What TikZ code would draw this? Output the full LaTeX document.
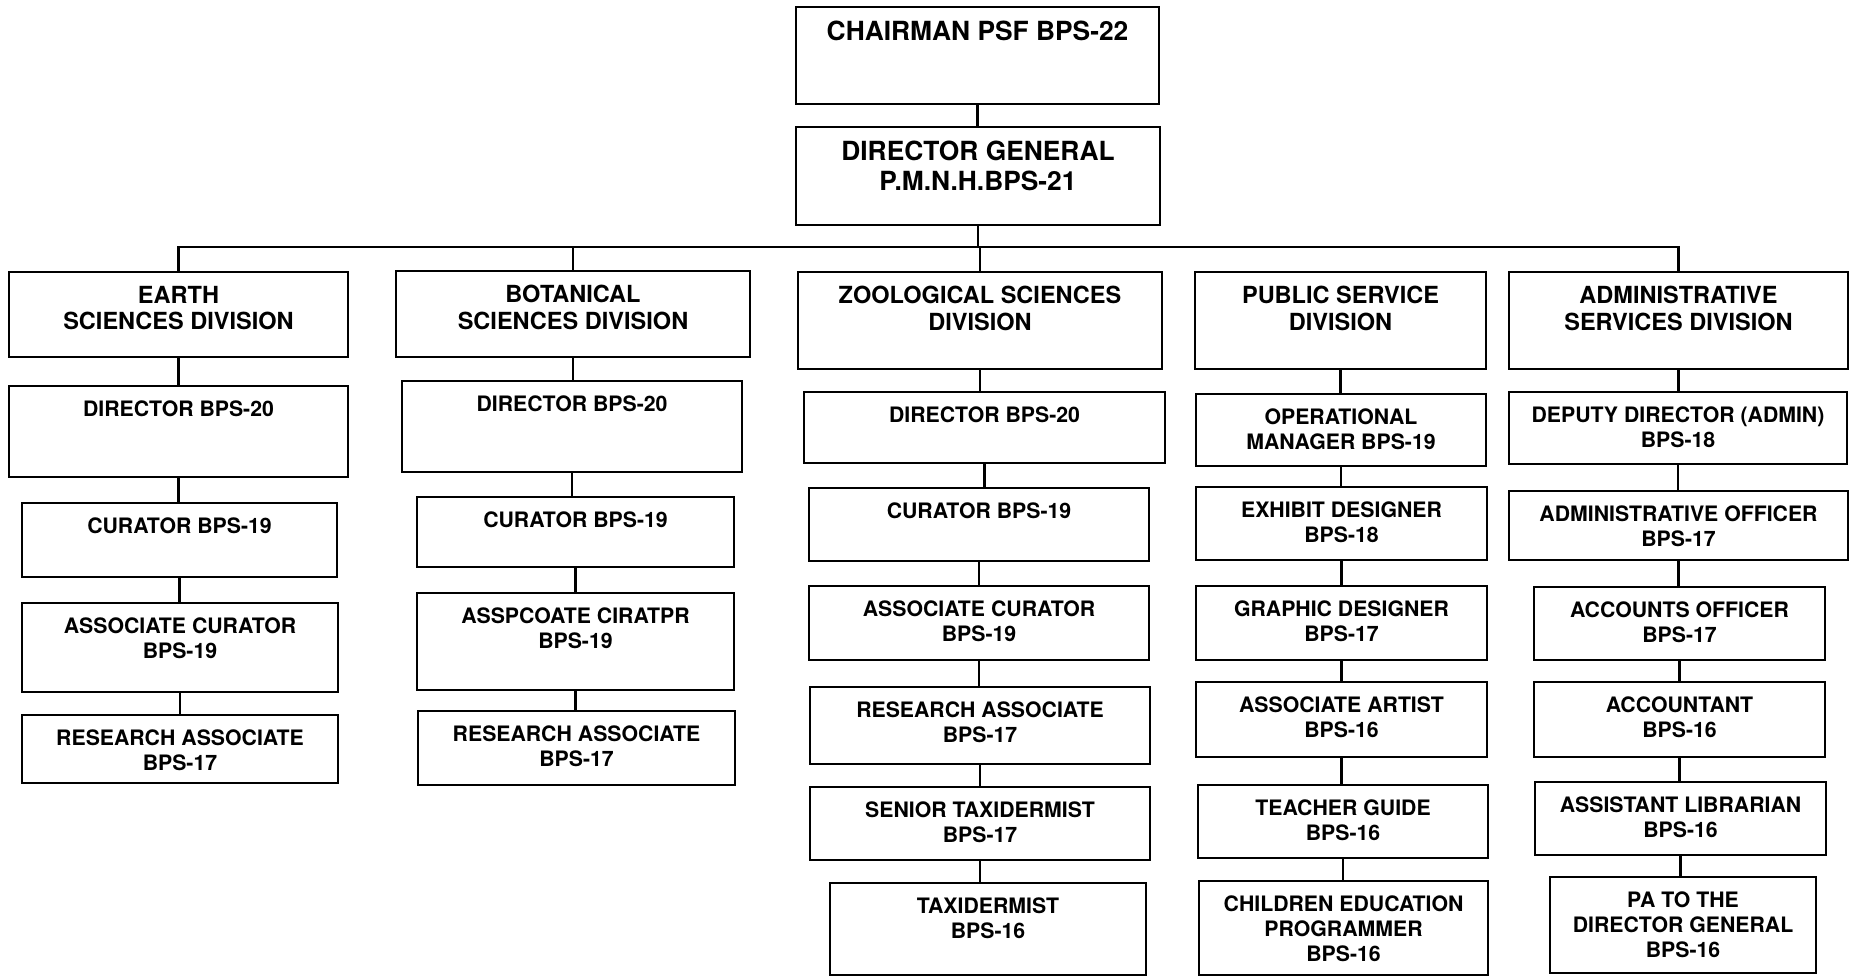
\documentclass[tikz,border=0pt]{standalone}
\usepackage{fontspec}
\setmainfont{TeX Gyre Heros}
\usepackage{tikz}
\tikzstyle{box}=[rectangle,draw=black,line width=1.6pt,inner sep=0pt]
\tikzstyle{toplbl}=[anchor=north,align=center,inner sep=0pt,yshift=-8.8pt,font=\bfseries\fontsize{15}{17}\selectfont]
\tikzstyle{divlbl}=[anchor=north,align=center,inner sep=0pt,yshift=-8.5pt,font=\bfseries\fontsize{13.4}{15.2}\selectfont]
\tikzstyle{poslbl}=[anchor=north,align=center,inner sep=0pt,yshift=-8.8pt,font=\bfseries\fontsize{12.1}{14.2}\selectfont]
\tikzstyle{conn}=[line width=1.3pt]

\begin{document}
\begin{tikzpicture}[x=0.02cm,y=-0.02cm]
        \useasboundingbox (0,0) rectangle (1852,977);

        % top
        \node at (977.5,55.5) [box,minimum width=7.26cm,minimum height=1.94cm,label={[toplbl]north:CHAIRMAN PSF BPS-22}] (chair) {};
        \node at (978,176)    [box,minimum width=7.28cm,minimum height=1.96cm,label={[toplbl]north:DIRECTOR GENERAL\\P.M.N.H.BPS-21}] (dg) {};

        % divisions
        \node at (178.5,314.5) [box,minimum width=6.78cm,minimum height=1.70cm,label={[divlbl]north:EARTH\\SCIENCES DIVISION}] (earth) {};
        \node at (573,314)     [box,minimum width=7.08cm,minimum height=1.72cm,label={[divlbl]north:BOTANICAL\\SCIENCES DIVISION}] (bot) {};
        \node at (980,320.5)   [box,minimum width=7.28cm,minimum height=1.94cm,label={[divlbl]north:ZOOLOGICAL SCIENCES\\DIVISION}] (zoo) {};
        \node at (1340.5,320.5) [box,minimum width=5.82cm,minimum height=1.94cm,label={[divlbl]north:PUBLIC SERVICE\\DIVISION}] (pub) {};
        \node at (1678.5,320.5) [box,minimum width=6.78cm,minimum height=1.94cm,label={[divlbl]north:ADMINISTRATIVE\\SERVICES DIVISION}] (adm) {};

        % earth sciences
        \node at (178.5,431.5) [box,minimum width=6.78cm,minimum height=1.82cm,label={[poslbl]north:DIRECTOR BPS-20}] (edir) {};
        \node at (179.5,540)   [box,minimum width=6.30cm,minimum height=1.48cm,label={[poslbl]north:CURATOR BPS-19}] (ecur) {};
        \node at (180,647.5)   [box,minimum width=6.32cm,minimum height=1.78cm,label={[poslbl]north:ASSOCIATE CURATOR\\BPS-19}] (easc) {};
        \node at (180,749)     [box,minimum width=6.32cm,minimum height=1.36cm,label={[poslbl]north:RESEARCH ASSOCIATE\\BPS-17}] (eres) {};

        % botanical sciences
        \node at (572,426.5)   [box,minimum width=6.80cm,minimum height=1.82cm,label={[poslbl]north:DIRECTOR BPS-20}] (bdir) {};
        \node at (575.5,532)   [box,minimum width=6.34cm,minimum height=1.40cm,label={[poslbl]north:CURATOR BPS-19}] (bcur) {};
        \node at (575.5,641.5) [box,minimum width=6.34cm,minimum height=1.94cm,label={[poslbl]north:ASSPCOATE CIRATPR\\BPS-19}] (basc) {};
        \node at (576.5,748)   [box,minimum width=6.34cm,minimum height=1.48cm,label={[poslbl]north:RESEARCH ASSOCIATE\\BPS-17}] (bres) {};

        % zoological sciences
        \node at (984.5,427.5) [box,minimum width=7.22cm,minimum height=1.42cm,label={[poslbl]north:DIRECTOR BPS-20}] (zdir) {};
        \node at (979,524.5)   [box,minimum width=6.80cm,minimum height=1.46cm,label={[poslbl]north:CURATOR BPS-19}] (zcur) {};
        \node at (979,623)     [box,minimum width=6.80cm,minimum height=1.48cm,label={[poslbl]north:ASSOCIATE CURATOR\\BPS-19}] (zasc) {};
        \node at (980,725.5)   [box,minimum width=6.80cm,minimum height=1.54cm,label={[poslbl]north:RESEARCH ASSOCIATE\\BPS-17}] (zres) {};
        \node at (980,823.5)   [box,minimum width=6.80cm,minimum height=1.46cm,label={[poslbl]north:SENIOR TAXIDERMIST\\BPS-17}] (zsen) {};
        \node at (988,929)     [box,minimum width=6.32cm,minimum height=1.84cm,label={[poslbl]north:TAXIDERMIST\\BPS-16}] (ztax) {};

        % public service
        \node at (1341,430)     [box,minimum width=5.80cm,minimum height=1.44cm,label={[poslbl]north:OPERATIONAL\\MANAGER BPS-19}] (opm) {};
        \node at (1341.5,523.5) [box,minimum width=5.82cm,minimum height=1.46cm,label={[poslbl]north:EXHIBIT DESIGNER\\BPS-18}] (exh) {};
        \node at (1341.5,623)   [box,minimum width=5.82cm,minimum height=1.48cm,label={[poslbl]north:GRAPHIC DESIGNER\\BPS-17}] (gra) {};
        \node at (1341.5,719.5) [box,minimum width=5.82cm,minimum height=1.50cm,label={[poslbl]north:ASSOCIATE ARTIST\\BPS-16}] (art) {};
        \node at (1343,821.5)   [box,minimum width=5.80cm,minimum height=1.46cm,label={[poslbl]north:TEACHER GUIDE\\BPS-16}] (tea) {};
        \node at (1343.5,928)   [box,minimum width=5.78cm,minimum height=1.88cm,label={[poslbl]north:CHILDREN EDUCATION\\PROGRAMMER\\BPS-16}] (chi) {};

        % administrative services
        \node at (1678,428)     [box,minimum width=6.76cm,minimum height=1.44cm,label={[poslbl]north:DEPUTY DIRECTOR (ADMIN)\\BPS-18}] (dep) {};
        \node at (1678.5,525.5) [box,minimum width=6.78cm,minimum height=1.38cm,label={[poslbl]north:ADMINISTRATIVE OFFICER\\BPS-17}] (aoff) {};
        \node at (1679.5,623.5) [box,minimum width=5.82cm,minimum height=1.46cm,label={[poslbl]north:ACCOUNTS OFFICER\\BPS-17}] (acc) {};
        \node at (1679.5,719.5) [box,minimum width=5.82cm,minimum height=1.50cm,label={[poslbl]north:ACCOUNTANT\\BPS-16}] (acct) {};
        \node at (1680.5,818.5) [box,minimum width=5.82cm,minimum height=1.46cm,label={[poslbl]north:ASSISTANT LIBRARIAN\\BPS-16}] (lib) {};
        \node at (1683,925)     [box,minimum width=5.32cm,minimum height=1.92cm,label={[poslbl]north:PA TO THE\\DIRECTOR GENERAL\\BPS-16}] (pa) {};

        % bus
        \coordinate (bus) at (978,247);
        \draw [conn] (chair.south) -- (chair.south |- dg.north);
        \draw [conn] (dg.south) -- (bus);
        \draw [conn] (earth.north) |- (bus) -| (adm.north);
        \draw [conn] (bot.north) -- (bot.north |- bus);
        \draw [conn] (zoo.north) -- (zoo.north |- bus);

        \draw [conn] (earth.south) -- (earth.south |- edir.north);
        \draw [conn] (edir.south) -- (edir.south |- ecur.north);
        \draw [conn] (ecur.south) -- (ecur.south |- easc.north);
        \draw [conn] (easc.south) -- (easc.south |- eres.north);

        \draw [conn] (bot.south) -- (bot.south |- bdir.north);
        \draw [conn] (bdir.south) -- (bdir.south |- bcur.north);
        \draw [conn] (bcur.south) -- (bcur.south |- basc.north);
        \draw [conn] (basc.south) -- (basc.south |- bres.north);

        \draw [conn] (zoo.south) -- (zoo.south |- zdir.north);
        \draw [conn] (zdir.south) -- (zdir.south |- zcur.north);
        \draw [conn] (zcur.south) -- (zcur.south |- zasc.north);
        \draw [conn] (zasc.south) -- (zasc.south |- zres.north);
        \draw [conn] (zres.south) -- (zres.south |- zsen.north);
        \draw [conn] (zsen.south) -- (zsen.south |- ztax.north);

        \draw [conn] (pub.south) -- (pub.south |- opm.north);
        \draw [conn] (opm.south) -- (opm.south |- exh.north);
        \draw [conn] (exh.south) -- (exh.south |- gra.north);
        \draw [conn] (gra.south) -- (gra.south |- art.north);
        \draw [conn] (art.south) -- (art.south |- tea.north);
        \draw [conn] (tea.south) -- (tea.south |- chi.north);

        \draw [conn] (adm.south) -- (adm.south |- dep.north);
        \draw [conn] (dep.south) -- (dep.south |- aoff.north);
        \draw [conn] (aoff.south) -- (aoff.south |- acc.north);
        \draw [conn] (acc.south) -- (acc.south |- acct.north);
        \draw [conn] (acct.south) -- (acct.south |- lib.north);
        \draw [conn] (lib.south) -- (lib.south |- pa.north);
      \end{tikzpicture}
\end{document}
